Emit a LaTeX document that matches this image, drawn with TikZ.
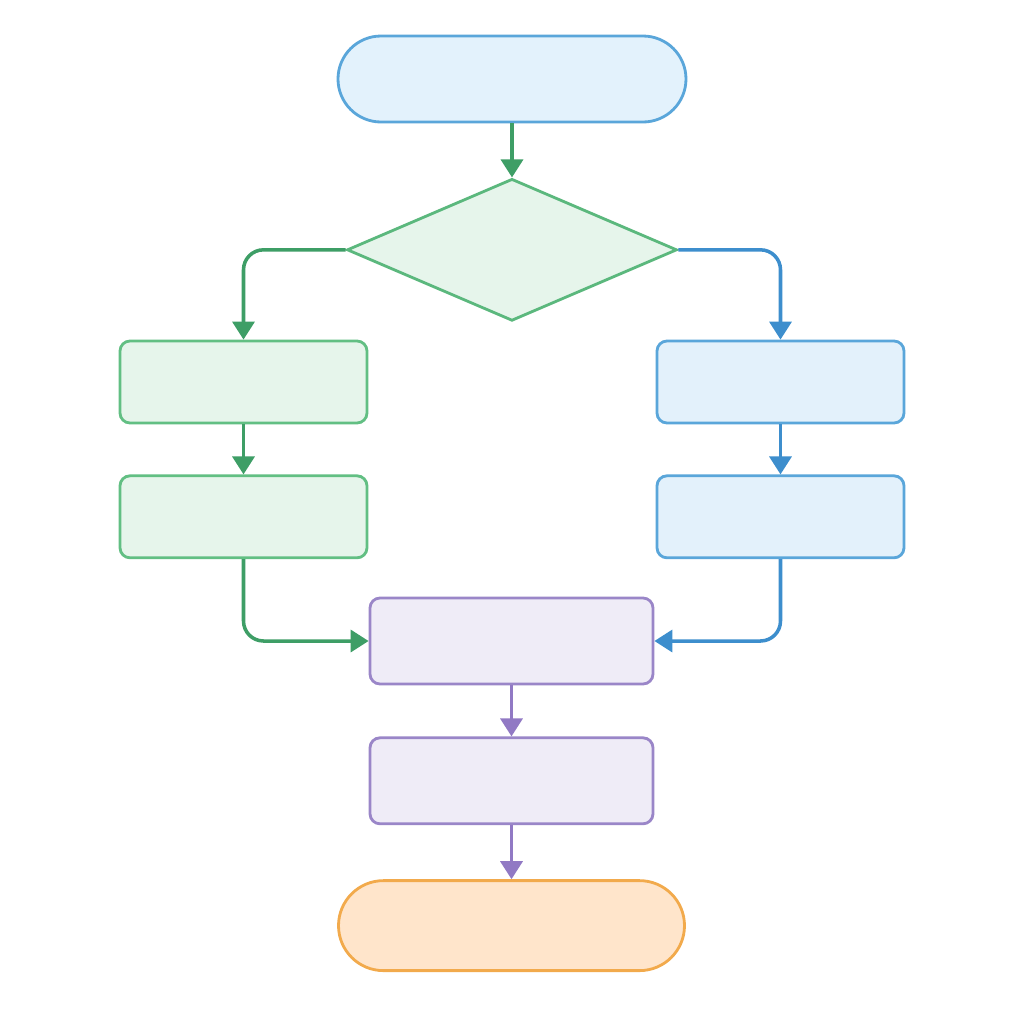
\documentclass[tikz,border=0pt]{standalone}
\usepackage{tikz}
\usetikzlibrary{
    shapes,
    arrows.meta,
    positioning,
}
\definecolor{termFill}{HTML}{E3F2FC}
\definecolor{termDraw}{HTML}{5AA6DA}
\definecolor{greenFill}{HTML}{E6F5EB}
\definecolor{greenDraw}{HTML}{62BF83}
\definecolor{greenLine}{HTML}{3E9E66}
\definecolor{blueFill}{HTML}{E3F1FB}
\definecolor{blueDraw}{HTML}{5AA6DA}
\definecolor{blueLine}{HTML}{3D8ECD}
\definecolor{purpleFill}{HTML}{EFECF7}
\definecolor{purpleDraw}{HTML}{9A86C8}
\definecolor{purpleLine}{HTML}{9179C4}
\definecolor{endFill}{HTML}{FFE5CB}
\definecolor{endDraw}{HTML}{F2AA4C}
\tikzset{
    startstop/.style = {
        rectangle,
        rounded corners=0.43cm,
        minimum width=3.48cm,
        minimum height=0.86cm,
        inner sep=0pt,
        line width=0.8pt,
        draw,
    },
    decision/.style = {
        diamond,
        aspect=2.32,
        minimum width=3.30cm,
        minimum height=1.42cm,
        inner sep=0pt,
        line width=0.8pt,
        fill=greenFill,
        draw=greenDraw!80!greenLine,
    },
    process/.style = {
        rectangle,
        rounded corners=0.1cm,
        minimum width=2.47cm,
        minimum height=0.82cm,
        inner sep=0pt,
        line width=0.8pt,
        draw,
    },
    merge/.style = {
        process,
        minimum width=2.83cm,
        minimum height=0.86cm,
        fill=purpleFill,
        draw=purpleDraw,
    },
}
\tikzstyle{arrow} = [
    line width=1pt,
    rounded corners=0.2cm,
    -{Triangle[width=0.22cm,length=0.18cm]}
]

\begin{document}
\begin{tikzpicture}[]
        \fill[white] (0,0) rectangle (10.24,-10.24);
        \useasboundingbox (0,0) rectangle (10.24,-10.24);

        \node [startstop, fill=termFill, draw=termDraw] at (5.12,-0.79) (start)
        {};

        \node [decision, below = 0.54cm of start] (choice)
        {};

        \node [process, fill=greenFill, draw=greenDraw] at (2.435,-3.82) (leftA)
        {};

        \node [process, fill=greenFill, draw=greenDraw, below = 0.50cm of leftA] (leftB)
        {};

        \node [process, fill=blueFill, draw=blueDraw] at (7.805,-3.82) (rightA)
        {};

        \node [process, fill=blueFill, draw=blueDraw, below = 0.50cm of rightA] (rightB)
        {};

        \node [merge] at (5.115,-6.41) (join)
        {};

        \node [merge, below = 0.51cm of join] (finish)
        {};

        \node [startstop, fill=endFill, draw=endDraw, minimum width=3.46cm,
               minimum height=0.90cm, rounded corners=0.45cm,
               below = 0.54cm of finish] (stop)
        {};

        \draw [arrow, greenLine] (start) -- (choice);
        \draw [arrow, greenLine] (choice.west) -| (leftA);
        \draw [arrow, blueLine] (choice.east) -| (rightA);
        \draw [arrow, greenLine] (leftA) -- (leftB);
        \draw [arrow, blueLine] (rightA) -- (rightB);
        \draw [arrow, greenLine] (leftB) |- (join);
        \draw [arrow, blueLine] (rightB) |- (join);
        \draw [arrow, purpleLine] (join) -- (finish);
        \draw [arrow, purpleLine] (finish) -- (stop);

    \end{tikzpicture}
\end{document}
